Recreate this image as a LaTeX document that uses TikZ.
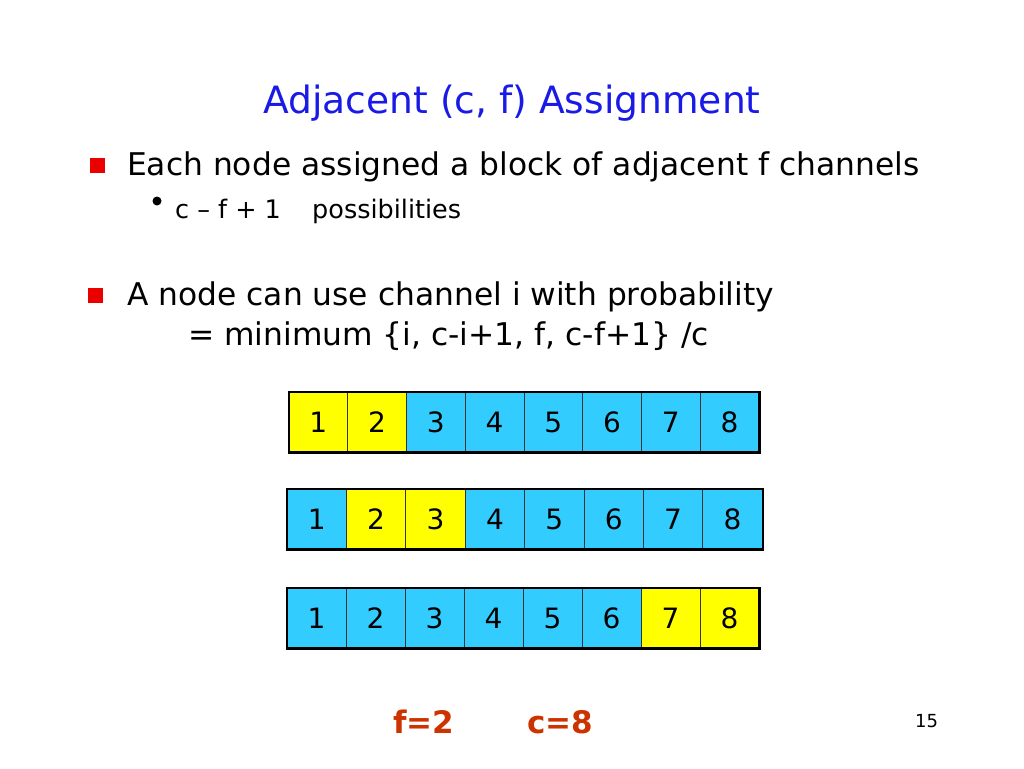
\documentclass[tikz,border=0pt]{standalone}
\usepackage{fontspec}
\setmainfont{DejaVu Sans}
\usetikzlibrary{positioning}
\definecolor{titleblue}{RGB}{26,26,230}
\definecolor{chanblue}{RGB}{51,204,255}
\definecolor{chanyellow}{RGB}{255,255,0}
\definecolor{bulletred}{RGB}{235,0,0}
\definecolor{labelred}{RGB}{204,51,0}
\begin{document}
\begin{tikzpicture}[x=1pt,y=-1pt,
    chan/.style={draw=black!80,line width=0.8pt,minimum height=60pt,inner sep=0pt,
      font=\fontsize{28}{28}\selectfont},
    frame/.style={draw=black,line width=2.2pt},
    bullet/.style={fill=bulletred,minimum size=15pt,inner sep=0pt},
    body/.style={anchor=base west,inner sep=0pt,font=\fontsize{31.3}{36}\selectfont},
    small/.style={anchor=base west,inner sep=0pt,font=\fontsize{25.5}{28}\selectfont},
    given/.style={anchor=base west,inner sep=0pt,text=labelred,font=\fontsize{31}{36}\selectfont\bfseries}]
  \useasboundingbox (0,0) rectangle (1024,768);

  % title and bullets
  \node [anchor=base,text=titleblue,font=\fontsize{37.6}{42}\selectfont] (title) at (512,113) {Adjacent (c, f) Assignment};
  \node [bullet] (b1) at (97,165) {};
  \node [body] (t1) at (127,175) {Each node assigned a block of adjacent f channels};
  \node [circle,fill=black,minimum size=9pt,inner sep=0pt] (d1) at (157,201) {};
  \node [small] (t2) at (175,218) {c – f + 1};
  \node [small] (t3) at (312,218) {possibilities};
  \node [bullet] (b2) at (95,295) {};
  \node [body] (t4) at (127,305) {A node can use channel i with probability};
  \node [body] (t5) at (188,345) {= minimum \{i, c-i+1, f, c-f+1\} /c};

  % channel rows
  \foreach \i/\col in {1/chanyellow,2/chanyellow,3/chanblue,4/chanblue,5/chanblue,6/chanblue,7/chanblue,8/chanblue}
    \node [chan,fill=\col,minimum width=58.75pt] (top\i) at (289+58.75*\i-29.375,422) {\i};
  \draw [frame] (top1.north west) rectangle (top8.south east);

  \foreach \i/\col in {1/chanblue,2/chanyellow,3/chanyellow,4/chanblue,5/chanblue,6/chanblue,7/chanblue,8/chanblue}
    \node [chan,fill=\col,minimum width=59.4pt] (mid\i) at (287+59.4*\i-29.7,519) {\i};
  \draw [frame] (mid1.north west) rectangle (mid8.south east);

  \foreach \i/\col in {1/chanblue,2/chanblue,3/chanblue,4/chanblue,5/chanblue,6/chanblue,7/chanyellow,8/chanyellow}
    \node [chan,fill=\col,minimum width=59pt] (bot\i) at (287+59*\i-29.5,618) {\i};
  \draw [frame] (bot1.north west) rectangle (bot8.south east);

  % parameters and page number
  \node [given] (f) at (393,733) {f=2};
  \node [given] (c) at (527,733) {c=8};
  \node [anchor=base west,inner sep=0pt,font=\fontsize{18}{20}\selectfont] (page) at (915,727) {15};
\end{tikzpicture}
\end{document}
